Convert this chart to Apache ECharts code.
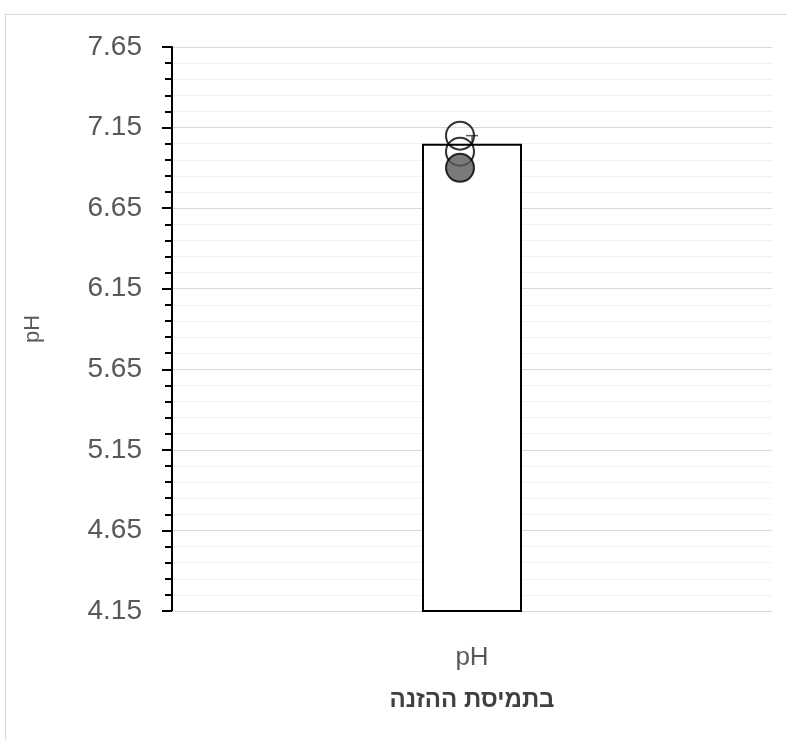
<!DOCTYPE html>
<html><head><meta charset="utf-8">
<script src="https://cdn.jsdelivr.net/npm/echarts@6/dist/echarts.min.js"></script>
<style>
html,body{margin:0;padding:0;background:#fff;}
#frame{position:absolute;left:5px;top:14px;width:800px;height:740px;border:1px solid #d9d9d9;box-sizing:border-box;}
#c{position:absolute;left:0;top:0;width:787px;height:740px;}
</style></head>
<body><div id="frame"></div><div id="c"></div>
<script>
const categories = ['pH'];
const barMeans = [7.05];
const errUp = [0.05];
const pointsOpen = [7.10, 7.00];
const pointsFilled = [6.90];
const yMin = 4.15, yMax = 7.65, yStep = 0.5;
const yTitle = 'pH';
const xTitle = 'בתמיסת ההזנה';

const chart = echarts.init(document.getElementById('c'));
chart.setOption({
  animation:false,
  grid:{left:172,top:47,right:15,bottom:129},
  xAxis:{type:'category',data:categories,
    axisLine:{lineStyle:{color:'#d9d9d9',width:1}},axisTick:{show:false},
    axisLabel:{fontSize:26,color:'#595959',fontFamily:'Liberation Sans, sans-serif',margin:34},
    name:xTitle,nameLocation:'middle',nameGap:77,
    nameTextStyle:{fontSize:24,fontWeight:'bold',color:'#404040',fontFamily:'Liberation Sans, sans-serif'}},
  yAxis:{type:'value',min:yMin,max:yMax,interval:yStep,
    axisLine:{show:true,lineStyle:{color:'#000',width:2}},
    axisTick:{show:true,length:10,lineStyle:{color:'#000',width:2}},
    minorTick:{show:true,splitNumber:5,length:7,lineStyle:{color:'#000',width:2}},
    splitLine:{lineStyle:{color:'#d9d9d9',width:1}},
    minorSplitLine:{show:true,lineStyle:{color:'#f2f2f2',width:1}},
    axisLabel:{fontSize:28,color:'#595959',margin:30,fontFamily:'Liberation Sans, sans-serif',
      formatter:v=>v.toFixed(2)},
    name:yTitle,nameLocation:'middle',nameGap:128,nameRotate:90,
    nameTextStyle:{fontSize:22,color:'#595959',fontFamily:'Liberation Sans, sans-serif'}},
  series:[
    {type:'bar',data:barMeans,barWidth:100,itemStyle:{color:'#fff',borderColor:'#000',borderWidth:2},z:2},
    {type:'custom',z:3,data:barMeans.map((m,i)=>[i,m,m+errUp[i]]),
      renderItem:(params,api)=>{
        const lo=api.coord([api.value(0),api.value(1)]);
        const hi=api.coord([api.value(0),api.value(2)]);
        return {type:'group',children:[
          {type:'line',shape:{x1:lo[0],y1:lo[1],x2:hi[0],y2:hi[1]},style:{stroke:'#595959',lineWidth:1.5}},
          {type:'line',shape:{x1:hi[0]-6,y1:hi[1],x2:hi[0]+6,y2:hi[1]},style:{stroke:'#595959',lineWidth:1.5}}
        ]};
      }},
    {type:'scatter',z:4,data:pointsOpen.map(v=>[0,v]),symbolSize:28,symbolOffset:[-12,0],
      itemStyle:{color:'rgba(0,0,0,0)',borderColor:'#000',borderWidth:2}},
    {type:'scatter',z:5,data:pointsFilled.map(v=>[0,v]),symbolSize:28,symbolOffset:[-12,0],
      itemStyle:{color:'#595959',borderColor:'#000',borderWidth:2}}
  ]
});
</script></body></html>
